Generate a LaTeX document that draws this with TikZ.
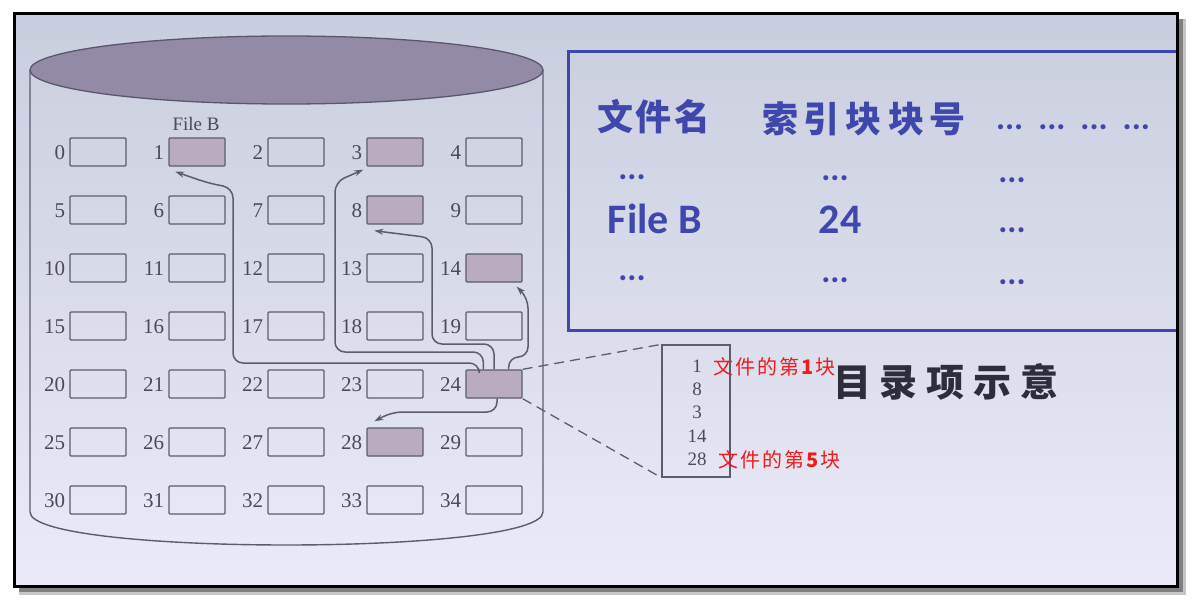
\documentclass[tikz,border=0pt]{standalone}
\usepackage{fontspec}
\setmainfont{Liberation Serif}
\newfontfamily\cjk{Noto Sans CJK SC}
\newfontfamily\carl{Carlito}
\usetikzlibrary{arrows.meta,calc}
\definecolor{bgtop}{HTML}{C9CEDE}
\definecolor{bgbot}{HTML}{EBEAF8}
\definecolor{diskfill}{HTML}{928AA6}
\definecolor{diskline}{HTML}{5A5670}
\definecolor{boxfill}{HTML}{B9ACC0}
\definecolor{linegray}{HTML}{5C5C70}
\definecolor{numgray}{HTML}{4A4A5C}
\definecolor{tblue}{HTML}{3E48AC}
\definecolor{redlbl}{HTML}{EE1C1C}
\definecolor{darktxt}{HTML}{2E2E3A}
\begin{document}
\begin{tikzpicture}[x=1pt,y=-1pt,
  blk/.style={draw=linegray, line width=1.4pt, minimum width=56pt, minimum height=28pt, inner sep=0pt, rounded corners=1pt},
  used/.style={blk, fill=boxfill},
  num/.style={font=\fontsize{21}{21}\selectfont, text=numgray, inner sep=0pt, anchor=east},
  link/.style={draw=linegray, line width=1.5pt, rounded corners=10pt, -{Stealth[length=9pt,width=6pt]}},
  dashline/.style={draw=linegray, line width=1.3pt, dash pattern=on 10pt off 6pt},
  idxnum/.style={font=\fontsize{19}{19}\selectfont, text=numgray, inner sep=0pt},
  redl/.style={font=\cjk\fontsize{20}{20}\selectfont, text=redlbl, inner sep=0pt, anchor=west},
  hdr/.style={font=\cjk\bfseries\fontsize{36}{36}\selectfont, text=tblue, inner sep=0pt},
  tdots/.style={font=\carl\bfseries\fontsize{34}{34}\selectfont, text=tblue, inner sep=0pt},
  tbig/.style={font=\carl\bfseries\fontsize{42}{42}\selectfont, text=tblue, inner sep=0pt}
]
\useasboundingbox (0,0) rectangle (1192,602);
\fill[white] (0,0) rectangle (1192,602);
% shadow and slide background
\fill[black!22] (19,19) rectangle (1186,595);
\fill[black!50] (19,19) rectangle (1183,592);
\shade[top color=bgtop, bottom color=bgbot] (14,14) rectangle (1177,586);

% disk cylinder
\draw[linegray, line width=1.4pt] (30,70) -- (30,512) .. controls (30,556) and (543,556) .. (543,512) -- (543,70);
\filldraw[fill=diskfill, draw=diskline, line width=1.3pt] (286.5,70) ellipse [x radius=256.5, y radius=34];

% blocks
\foreach \i/\st in {0/blk,1/used,2/blk,3/used,4/blk,5/blk,6/blk,7/blk,8/used,9/blk,
                    10/blk,11/blk,12/blk,13/blk,14/used,15/blk,16/blk,17/blk,18/blk,19/blk,
                    20/blk,21/blk,22/blk,23/blk,24/used,25/blk,26/blk,27/blk,28/used,29/blk,
                    30/blk,31/blk,32/blk,33/blk,34/blk} {
  \pgfmathtruncatemacro\r{\i/5}
  \pgfmathtruncatemacro\c{\i-5*\r}
  \node[\st] (b\i) at ({98+99*\c},{152+58*\r}) {};
  \node[num] (n\i) at ($(b\i.west)+(-4,1)$) {\i};
}
\node[font=\fontsize{19}{19}\selectfont, text=numgray, inner sep=0pt] (fb) at ($(b1.north)+(-1,-13)$) {File B};

% index pointers
\draw[link] ($(b24.north west)+(14,0)$) |- (233,363) -- (233,188) -- (208,183) -- ($(b1.south west)+(7,5)$);
\draw[link] ($(b24.north west)+(18,0)$) |- (335,352) -- (335,182) -- ($(b3.south west)+(-3,3)$);
\draw[link] (b24.north) |- (432,344) -- (432,238) -- ($(b8.south west)+(8,6)$);
\draw[link] ($(b24.north east)+(-14,0)$) |- (528,357) -- (528,298) -- ($(b14.south east)+(-6,4)$);
\draw[link] ($(b24.south)+(3,0)$) |- (392,412) -- ($(b28.north west)+(8,-6)$);

% index block detail
\node[draw=linegray, line width=1.3pt, minimum width=68pt, minimum height=132pt, inner sep=0pt] (idx) at (696,411) {};
\draw[dashline] (b24.north east) -- (idx.north west);
\draw[dashline] (b24.south east) -- (idx.south west);
\node[idxnum] (i1) at (697,366) {1};
\node[idxnum] (i2) at (697,389) {8};
\node[idxnum] (i3) at (697,412) {3};
\node[idxnum] (i4) at (697,436) {14};
\node[idxnum] (i5) at (697,459) {28};
\node[redl] (r1) at (713,367) {文\hspace{2pt}件\hspace{2pt}的\hspace{2pt}第\hspace{2pt}{\bfseries 1}\hspace{2pt}块};
\node[redl] (r2) at (718,460) {文\hspace{2pt}件\hspace{2pt}的\hspace{2pt}第\hspace{2pt}{\bfseries 5}\hspace{2pt}块};
\node[font=\cjk\bfseries\fontsize{38}{38}\selectfont, text=darktxt, inner sep=0pt] (ttl) at (946,382) {目\hspace{9pt}录\hspace{9pt}项\hspace{9pt}示\hspace{9pt}意};

% directory table
\draw[tblue, line width=3pt] (1177,52) -- (568,52) -- (568,330) -- (1177,330);
\node[hdr] (h1) at (654,117) {文\hspace{3pt}件\hspace{3pt}名};
\node[hdr] (h2) at (864,119) {索\hspace{6pt}引\hspace{6pt}块\hspace{6pt}块\hspace{6pt}号};
\node[tdots] (h3) at (1073,127) {...\hspace{15pt}...\hspace{15pt}...\hspace{15pt}...};
\node[tdots] (a1) at (632,177) {...};
\node[tdots] (a2) at (835,178) {...};
\node[tdots] (a3) at (1012,180) {...};
\node[tbig] (f1) at (655,219) {File B};
\node[tbig] (f2) at (840,220) {24};
\node[tdots] (f3) at (1012,230) {...};
\node[tdots] (c1) at (632,278) {...};
\node[tdots] (c2) at (835,280) {...};
\node[tdots] (c3) at (1012,282) {...};

% frame
\draw[black, line width=3pt] (14,14) rectangle (1177,586);
\end{tikzpicture}
\end{document}
